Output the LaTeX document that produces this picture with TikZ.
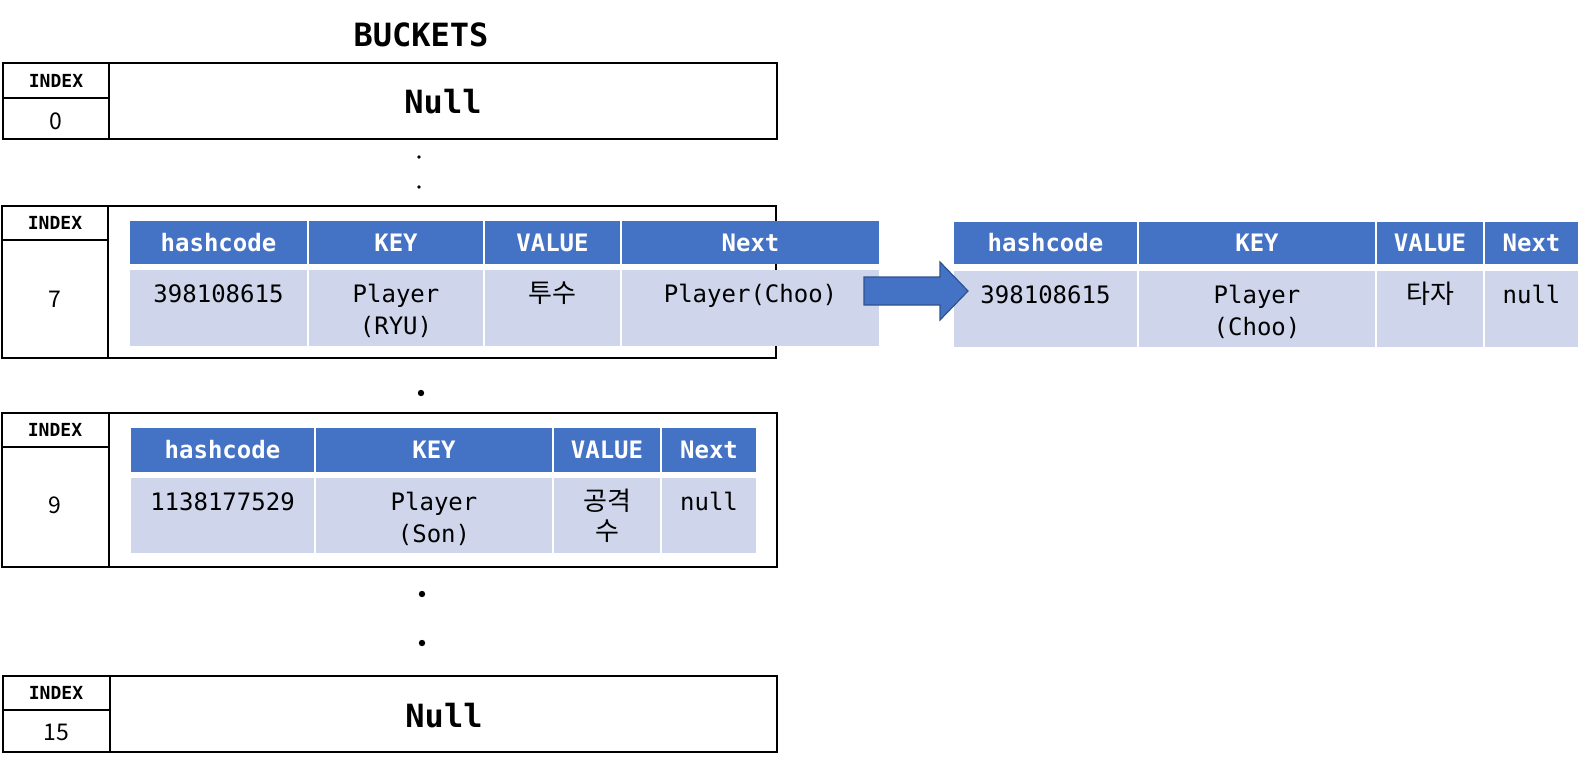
\documentclass[tikz,border=0pt]{standalone}
\usepackage{fontspec}
\setmonofont{DejaVu Sans Mono}
\newfontfamily\krfont{Noto Sans CJK KR}
\definecolor{hblue}{HTML}{4472C4}
\definecolor{cellc}{HTML}{CFD5EA}
\definecolor{arrowedge}{HTML}{2F528F}
\newcommand\hcell[6]{\node[hcellst, minimum width={(#4-#2)*0.5pt}, minimum height={(#5-#3)*0.5pt}] (#1) at (#2,#3) {#6};}
\newcommand\dcell[7]{\node[dcellst, minimum width={(#4-#2)*0.5pt}, minimum height={(#5-#3)*0.5pt}] (#1) at (#2,#3) {};
  \node[#6] (#1t) at (#1.north) {#7};}
\begin{document}
\begin{tikzpicture}[x=0.5pt,y=-0.5pt,
  box/.style={draw=black, line width=1.4pt},
  hcellst/.style={fill=hblue, draw=none, inner sep=0pt, outer sep=0pt, anchor=north west, text=white, font=\ttfamily\bfseries\fontsize{12}{14}\selectfont},
  dcellst/.style={fill=cellc, draw=none, inner sep=0pt, outer sep=0pt, anchor=north west},
  dtxt/.style={font=\ttfamily\fontsize{12}{16}\selectfont, align=center, anchor=north, inner sep=0pt, yshift=-7pt},
  ktxt/.style={font=\krfont\fontsize{13}{15}\selectfont, align=center, anchor=north, inner sep=0pt, yshift=-5.5pt},
  idx/.style={font=\ttfamily\bfseries\fontsize{9}{11}\selectfont, inner sep=0pt},
  num/.style={font=\krfont\fontsize{11.5}{14}\selectfont, inner sep=0pt},
  nulltxt/.style={font=\ttfamily\bfseries\fontsize{16}{20}\selectfont, inner sep=0pt},
  arrowst/.style={fill=hblue, draw=arrowedge, line width=0.6pt, line join=miter},
  dotsm/.style={fill=black},
]
\useasboundingbox (0,0) rectangle (1584,765);

% title
\node[nulltxt] (title) at (421,35) {BUCKETS};

% ---- bucket 0
\draw[box] (3,63) rectangle (109,139);
\draw[box] (3,98) -- (109,98);
\draw[box] (109,63) rectangle (777,139);
\node[idx] (i0) at (56,81) {INDEX};
\node[num] (n0) at (56,121) {0};
\node[nulltxt] (null0) at (443,102) {Null};

% dots
\fill[dotsm] (419,157) circle[radius=0.9pt];
\fill[dotsm] (419,187) circle[radius=0.9pt];

% ---- bucket 7
\draw[box] (2,206) rectangle (108,358);
\draw[box] (2,240) -- (108,240);
\draw[box] (108,206) rectangle (776,358);
\node[idx] (i7) at (55,223) {INDEX};
\node[num] (n7) at (55,299) {7};

\hcell{h7a}{130}{221}{307}{264}{hashcode}
\hcell{h7b}{309}{221}{483}{264}{KEY}
\hcell{h7c}{485}{221}{620}{264}{VALUE}
\hcell{h7d}{622}{221}{879}{264}{Next}
\dcell{d7a}{130}{270}{307}{346}{dtxt}{398108615}
\dcell{d7b}{309}{270}{483}{346}{dtxt}{Player\\(RYU)}
\dcell{d7c}{485}{270}{620}{346}{ktxt}{투수}
\dcell{d7d}{622}{270}{879}{346}{dtxt}{Player(Choo)}

% right table
\hcell{hra}{954}{222}{1137}{264}{hashcode}
\hcell{hrb}{1139}{222}{1375}{264}{KEY}
\hcell{hrc}{1377}{222}{1483}{264}{VALUE}
\hcell{hrd}{1485}{222}{1578}{264}{Next}
\dcell{dra}{954}{271}{1137}{347}{dtxt}{398108615}
\dcell{drb}{1139}{271}{1375}{347}{dtxt}{Player\\(Choo)}
\dcell{drc}{1377}{271}{1483}{347}{ktxt}{타자}
\dcell{drd}{1485}{271}{1578}{347}{dtxt}{null}

% block arrow from the Next cell to the next entry
\draw[arrowst] (864,277) -- (940,277) -- (940,262) -- (968,291) -- (940,320) -- (940,305) -- (864,305) -- cycle;

\fill[dotsm] (421,393) circle[radius=1.6pt];

% ---- bucket 9
\draw[box] (2,413) rectangle (109,567);
\draw[box] (2,447) -- (109,447);
\draw[box] (109,413) rectangle (777,567);
\node[idx] (i9) at (55,430) {INDEX};
\node[num] (n9) at (55,505) {9};

\hcell{h9a}{131}{428}{314}{472}{hashcode}
\hcell{h9b}{316}{428}{552}{472}{KEY}
\hcell{h9c}{554}{428}{660}{472}{VALUE}
\hcell{h9d}{662}{428}{756}{472}{Next}
\dcell{d9a}{131}{478}{314}{553}{dtxt}{1138177529}
\dcell{d9b}{316}{478}{552}{553}{dtxt}{Player\\(Son)}
\dcell{d9c}{554}{478}{660}{553}{ktxt}{공격\\수}
\dcell{d9d}{662}{478}{756}{553}{dtxt}{null}

\fill[dotsm] (422,594) circle[radius=1.6pt];
\fill[dotsm] (422,643) circle[radius=1.6pt];

% ---- bucket 15
\draw[box] (3,676) rectangle (110,752);
\draw[box] (3,710) -- (110,710);
\draw[box] (110,676) rectangle (777,752);
\node[idx] (i15) at (56,693) {INDEX};
\node[num] (n15) at (56,732) {15};
\node[nulltxt] (null15) at (444,716) {Null};
\end{tikzpicture}
\end{document}
